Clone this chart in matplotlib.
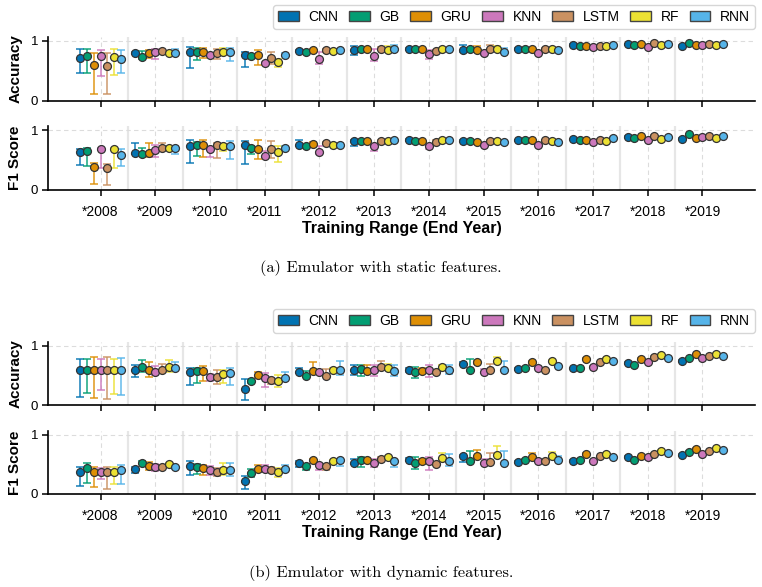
import matplotlib
matplotlib.use("Agg")
import matplotlib.pyplot as plt
from matplotlib.patches import Patch
import numpy as np

models = ["CNN", "GB", "GRU", "KNN", "LSTM", "RF", "RNN"]
years = ["*2008", "*2009", "*2010", "*2011", "*2012", "*2013",
         "*2014", "*2015", "*2016", "*2017", "*2018", "*2019"]
colors = ["#0173b2", "#029e73", "#de8f05", "#cc78bc", "#ca9161", "#ece133", "#56b4e9"]

# ---------------- (a) static features ----------------
acc_a = {
    "CNN":  [0.72, 0.80, 0.81, 0.76, 0.83, 0.84, 0.86, 0.84, 0.87, 0.93, 0.94, 0.92],
    "GB":   [0.75, 0.73, 0.81, 0.74, 0.82, 0.86, 0.86, 0.86, 0.87, 0.92, 0.93, 0.96],
    "GRU":  [0.59, 0.79, 0.81, 0.76, 0.84, 0.87, 0.86, 0.84, 0.87, 0.91, 0.95, 0.93],
    "KNN":  [0.75, 0.82, 0.77, 0.63, 0.69, 0.74, 0.78, 0.79, 0.80, 0.89, 0.90, 0.93],
    "LSTM": [0.58, 0.83, 0.79, 0.72, 0.84, 0.87, 0.83, 0.86, 0.87, 0.92, 0.96, 0.95],
    "RF":   [0.73, 0.79, 0.82, 0.64, 0.83, 0.84, 0.86, 0.86, 0.86, 0.91, 0.93, 0.93],
    "RNN":  [0.69, 0.79, 0.81, 0.77, 0.84, 0.87, 0.86, 0.82, 0.85, 0.93, 0.94, 0.95],
}
acc_a_lo = {
    "CNN":  [0.25, 0.02, 0.26, 0.19, 0.02, 0.07, 0.02, 0.02, 0.01, 0.01, 0.01, 0.01],
    "GB":   [0.28, 0.04, 0.13, 0.03, 0.02, 0.02, 0.02, 0.02, 0.01, 0.01, 0.01, 0.01],
    "GRU":  [0.47, 0.08, 0.10, 0.16, 0.02, 0.02, 0.02, 0.02, 0.01, 0.01, 0.01, 0.01],
    "KNN":  [0.33, 0.13, 0.03, 0.02, 0.07, 0.07, 0.09, 0.02, 0.01, 0.01, 0.01, 0.01],
    "LSTM": [0.475, 0.02, 0.10, 0.11, 0.02, 0.02, 0.02, 0.02, 0.01, 0.01, 0.01, 0.01],
    "RF":   [0.30, 0.02, 0.03, 0.07, 0.02, 0.02, 0.02, 0.02, 0.01, 0.01, 0.01, 0.01],
    "RNN":  [0.22, 0.02, 0.14, 0.02, 0.02, 0.02, 0.02, 0.02, 0.01, 0.01, 0.01, 0.01],
}
acc_a_hi = {
    "CNN":  [0.14, 0.02, 0.08, 0.06, 0.02, 0.08, 0.02, 0.09, 0.01, 0.01, 0.01, 0.01],
    "GB":   [0.12, 0.10, 0.07, 0.04, 0.03, 0.02, 0.02, 0.02, 0.01, 0.01, 0.01, 0.01],
    "GRU":  [0.21, 0.05, 0.07, 0.09, 0.02, 0.02, 0.02, 0.07, 0.01, 0.01, 0.01, 0.01],
    "KNN":  [0.09, 0.045, 0.03, 0.02, 0.13, 0.13, 0.06, 0.02, 0.01, 0.01, 0.01, 0.01],
    "LSTM": [0.22, 0.02, 0.07, 0.09, 0.02, 0.02, 0.02, 0.07, 0.01, 0.01, 0.01, 0.01],
    "RF":   [0.14, 0.02, 0.06, 0.05, 0.02, 0.07, 0.02, 0.06, 0.01, 0.01, 0.01, 0.01],
    "RNN":  [0.15, 0.07, 0.07, 0.02, 0.02, 0.06, 0.02, 0.06, 0.01, 0.01, 0.01, 0.01],
}
f1_a = {
    "CNN":  [0.63, 0.62, 0.73, 0.75, 0.75, 0.82, 0.84, 0.82, 0.83, 0.85, 0.89, 0.86],
    "GB":   [0.66, 0.60, 0.75, 0.71, 0.73, 0.82, 0.82, 0.82, 0.83, 0.84, 0.87, 0.93],
    "GRU":  [0.38, 0.62, 0.75, 0.69, 0.77, 0.82, 0.82, 0.81, 0.83, 0.84, 0.90, 0.87],
    "KNN":  [0.68, 0.67, 0.69, 0.57, 0.63, 0.74, 0.74, 0.75, 0.76, 0.80, 0.84, 0.89],
    "LSTM": [0.37, 0.70, 0.75, 0.69, 0.79, 0.82, 0.81, 0.82, 0.83, 0.84, 0.91, 0.90],
    "RF":   [0.68, 0.70, 0.74, 0.63, 0.75, 0.82, 0.83, 0.82, 0.82, 0.82, 0.86, 0.87],
    "RNN":  [0.59, 0.71, 0.73, 0.71, 0.76, 0.84, 0.83, 0.80, 0.81, 0.87, 0.88, 0.91],
}
f1_a_lo = {
    "CNN":  [0.22, 0.02, 0.28, 0.31, 0.02, 0.08, 0.02, 0.02, 0.01, 0.01, 0.01, 0.01],
    "GB":   [0.26, 0.02, 0.18, 0.11, 0.02, 0.02, 0.02, 0.02, 0.01, 0.01, 0.01, 0.01],
    "GRU":  [0.28, 0.06, 0.20, 0.18, 0.02, 0.02, 0.02, 0.02, 0.01, 0.01, 0.01, 0.01],
    "KNN":  [0.31, 0.12, 0.13, 0.02, 0.02, 0.09, 0.06, 0.02, 0.01, 0.01, 0.01, 0.01],
    "LSTM": [0.28, 0.03, 0.22, 0.16, 0.02, 0.02, 0.02, 0.02, 0.01, 0.01, 0.01, 0.01],
    "RF":   [0.32, 0.03, 0.08, 0.17, 0.02, 0.02, 0.02, 0.02, 0.01, 0.01, 0.01, 0.01],
    "RNN":  [0.19, 0.10, 0.21, 0.02, 0.02, 0.02, 0.02, 0.02, 0.01, 0.01, 0.01, 0.01],
}
f1_a_hi = {
    "CNN":  [0.06, 0.17, 0.10, 0.07, 0.08, 0.02, 0.02, 0.02, 0.01, 0.01, 0.01, 0.01],
    "GB":   [0.04, 0.10, 0.05, 0.02, 0.02, 0.02, 0.02, 0.02, 0.01, 0.01, 0.01, 0.01],
    "GRU":  [0.07, 0.16, 0.09, 0.15, 0.04, 0.02, 0.02, 0.02, 0.01, 0.01, 0.01, 0.01],
    "KNN":  [0.02, 0.08, 0.03, 0.08, 0.11, 0.02, 0.02, 0.02, 0.01, 0.01, 0.01, 0.01],
    "LSTM": [0.07, 0.08, 0.03, 0.13, 0.02, 0.02, 0.02, 0.02, 0.01, 0.01, 0.01, 0.01],
    "RF":   [0.02, 0.03, 0.03, 0.11, 0.02, 0.02, 0.02, 0.02, 0.01, 0.01, 0.01, 0.01],
    "RNN":  [0.10, 0.02, 0.09, 0.02, 0.02, 0.02, 0.02, 0.02, 0.01, 0.01, 0.01, 0.01],
}

# ---------------- (b) dynamic features ----------------
acc_b = {
    "CNN":  [0.59, 0.59, 0.56, 0.27, 0.56, 0.59, 0.59, 0.70, 0.61, 0.62, 0.71, 0.75],
    "GB":   [0.60, 0.64, 0.57, 0.40, 0.49, 0.61, 0.55, 0.60, 0.62, 0.62, 0.67, 0.79],
    "GRU":  [0.59, 0.59, 0.57, 0.50, 0.58, 0.58, 0.58, 0.72, 0.72, 0.78, 0.78, 0.86],
    "KNN":  [0.59, 0.56, 0.48, 0.46, 0.56, 0.59, 0.59, 0.56, 0.63, 0.65, 0.72, 0.79],
    "LSTM": [0.59, 0.60, 0.48, 0.43, 0.49, 0.65, 0.55, 0.60, 0.60, 0.72, 0.81, 0.82],
    "RF":   [0.59, 0.64, 0.52, 0.41, 0.60, 0.63, 0.65, 0.74, 0.75, 0.78, 0.85, 0.87],
    "RNN":  [0.59, 0.63, 0.54, 0.46, 0.59, 0.57, 0.60, 0.59, 0.66, 0.74, 0.80, 0.83],
}
acc_b_lo = {
    "CNN":  [0.45, 0.12, 0.22, 0.19, 0.02, 0.08, 0.03, 0.02, 0.01, 0.01, 0.01, 0.01],
    "GB":   [0.39, 0.09, 0.20, 0.02, 0.02, 0.12, 0.09, 0.02, 0.01, 0.01, 0.01, 0.01],
    "GRU":  [0.48, 0.11, 0.17, 0.02, 0.02, 0.02, 0.02, 0.02, 0.02, 0.01, 0.01, 0.01],
    "KNN":  [0.33, 0.05, 0.08, 0.15, 0.02, 0.10, 0.12, 0.02, 0.01, 0.01, 0.01, 0.01],
    "LSTM": [0.49, 0.03, 0.13, 0.08, 0.02, 0.02, 0.02, 0.02, 0.01, 0.01, 0.01, 0.01],
    "RF":   [0.40, 0.08, 0.14, 0.10, 0.02, 0.02, 0.02, 0.02, 0.01, 0.01, 0.01, 0.01],
    "RNN":  [0.42, 0.03, 0.21, 0.02, 0.09, 0.08, 0.07, 0.02, 0.01, 0.01, 0.01, 0.01],
}
acc_b_hi = {
    "CNN":  [0.19, 0.09, 0.07, 0.17, 0.07, 0.09, 0.03, 0.02, 0.01, 0.01, 0.01, 0.01],
    "GB":   [0.18, 0.12, 0.06, 0.02, 0.08, 0.06, 0.10, 0.18, 0.01, 0.01, 0.01, 0.01],
    "GRU":  [0.22, 0.13, 0.09, 0.05, 0.14, 0.10, 0.04, 0.02, 0.02, 0.01, 0.01, 0.01],
    "KNN":  [0.18, 0.10, 0.04, 0.08, 0.02, 0.08, 0.09, 0.05, 0.01, 0.01, 0.01, 0.01],
    "LSTM": [0.22, 0.10, 0.12, 0.02, 0.12, 0.09, 0.02, 0.10, 0.01, 0.01, 0.01, 0.01],
    "RF":   [0.18, 0.12, 0.08, 0.10, 0.02, 0.07, 0.02, 0.07, 0.01, 0.01, 0.01, 0.01],
    "RNN":  [0.21, 0.10, 0.08, 0.09, 0.16, 0.10, 0.07, 0.15, 0.01, 0.01, 0.01, 0.01],
}
f1_b = {
    "CNN":  [0.38, 0.43, 0.47, 0.22, 0.53, 0.53, 0.58, 0.64, 0.54, 0.56, 0.63, 0.66],
    "GB":   [0.44, 0.52, 0.46, 0.36, 0.48, 0.57, 0.53, 0.56, 0.58, 0.58, 0.58, 0.71],
    "GRU":  [0.37, 0.48, 0.44, 0.43, 0.57, 0.57, 0.55, 0.64, 0.62, 0.68, 0.64, 0.76],
    "KNN":  [0.38, 0.46, 0.40, 0.42, 0.49, 0.53, 0.56, 0.52, 0.56, 0.56, 0.62, 0.68],
    "LSTM": [0.37, 0.46, 0.38, 0.41, 0.48, 0.60, 0.51, 0.54, 0.55, 0.64, 0.68, 0.72],
    "RF":   [0.38, 0.50, 0.41, 0.38, 0.56, 0.62, 0.61, 0.66, 0.65, 0.68, 0.73, 0.77],
    "RNN":  [0.41, 0.45, 0.41, 0.42, 0.57, 0.56, 0.56, 0.52, 0.57, 0.63, 0.69, 0.74],
}
f1_b_lo = {
    "CNN":  [0.24, 0.07, 0.15, 0.14, 0.08, 0.03, 0.03, 0.10, 0.01, 0.01, 0.01, 0.01],
    "GB":   [0.25, 0.02, 0.13, 0.07, 0.08, 0.11, 0.10, 0.02, 0.01, 0.01, 0.01, 0.01],
    "GRU":  [0.26, 0.08, 0.12, 0.02, 0.02, 0.03, 0.05, 0.02, 0.02, 0.01, 0.01, 0.01],
    "KNN":  [0.13, 0.07, 0.08, 0.05, 0.09, 0.08, 0.16, 0.02, 0.01, 0.01, 0.01, 0.01],
    "LSTM": [0.28, 0.03, 0.08, 0.04, 0.08, 0.02, 0.02, 0.02, 0.01, 0.01, 0.01, 0.01],
    "RF":   [0.21, 0.03, 0.09, 0.10, 0.02, 0.02, 0.02, 0.02, 0.01, 0.01, 0.01, 0.01],
    "RNN":  [0.24, 0.03, 0.10, 0.02, 0.10, 0.10, 0.09, 0.02, 0.01, 0.01, 0.01, 0.01],
}
f1_b_hi = {
    "CNN":  [0.07, 0.03, 0.09, 0.09, 0.02, 0.07, 0.03, 0.02, 0.01, 0.01, 0.01, 0.01],
    "GB":   [0.08, 0.03, 0.05, 0.06, 0.02, 0.05, 0.10, 0.17, 0.01, 0.01, 0.01, 0.01],
    "GRU":  [0.08, 0.06, 0.05, 0.06, 0.02, 0.04, 0.04, 0.11, 0.07, 0.01, 0.01, 0.01],
    "KNN":  [0.06, 0.05, 0.07, 0.07, 0.02, 0.07, 0.07, 0.07, 0.01, 0.01, 0.01, 0.01],
    "LSTM": [0.08, 0.03, 0.06, 0.04, 0.02, 0.02, 0.02, 0.16, 0.01, 0.01, 0.01, 0.01],
    "RF":   [0.08, 0.03, 0.12, 0.06, 0.02, 0.02, 0.08, 0.15, 0.06, 0.01, 0.01, 0.01],
    "RNN":  [0.08, 0.03, 0.11, 0.07, 0.02, 0.02, 0.11, 0.21, 0.07, 0.01, 0.01, 0.01],
}

SANS = ["Liberation Sans", "DejaVu Sans"]
plt.rcParams["font.family"] = SANS

W, H = 762, 587
fig = plt.figure(figsize=(W / 100, H / 100), dpi=100)


def rect(top, bottom, left=48, right=755):
    return [left / W, 1 - bottom / H, (right - left) / W, (bottom - top) / H]


def draw(ax, means, lo, hi, ylabel, show_xlabels):
    x = np.arange(len(years))
    step = 0.123
    for sep in np.arange(len(years) - 1) + 0.5:
        ax.axvline(sep, color="#e6e6e6", lw=1.6, zorder=0)
    for xi in x:
        ax.axvline(xi, color="#dcdcdc", lw=0.8, ls=(0, (4, 3)), zorder=0)
    ax.axhline(1.0, color="#dcdcdc", lw=0.8, ls=(0, (4, 3)), zorder=0)
    for i, m in enumerate(models):
        xs = x + (i - 3) * step
        y = np.array(means[m])
        yerr = np.vstack([lo[m], hi[m]])
        ax.errorbar(xs, y, yerr=yerr, fmt="none", ecolor=colors[i], alpha=0.72,
                    elinewidth=1.4, capsize=2.6, capthick=1.4, zorder=2)
        ax.plot(xs, y, "o", ms=5.7, mfc=colors[i], mec="#333333", mew=0.9,
                zorder=3, ls="none")
    ax.set_xlim(-0.96, 11.96)
    ax.set_ylim(0, 1.07)
    ax.set_yticks([0, 1])
    ax.set_yticklabels(["0", "1"])
    ax.set_xticks(x)
    for s in ["top", "right"]:
        ax.spines[s].set_visible(False)
    for s in ["left", "bottom"]:
        ax.spines[s].set_linewidth(1.2)
    ax.tick_params(axis="y", direction="out", length=4, width=1.1, labelsize=9.5, pad=3)
    ax.tick_params(axis="x", direction="out", length=4, width=1.1, labelsize=10, pad=7)
    if show_xlabels:
        ax.set_xticklabels(years)
    else:
        ax.set_xticklabels([])
    ax.set_ylabel(ylabel, fontsize=11, fontweight="bold", labelpad=6)
    ax.patch.set_alpha(0)


handles = [Patch(facecolor=c, edgecolor="#444444", linewidth=1.0, label=m)
           for m, c in zip(models, colors)]

panels = [
    (acc_a, acc_a_lo, acc_a_hi, f1_a, f1_a_lo, f1_a_hi,
     (36.7, 100.7), (126, 190), 5, 228, 268, "(a) Emulator with static features."),
    (acc_b, acc_b_lo, acc_b_hi, f1_b, f1_b_lo, f1_b_hi,
     (341.7, 405), (430.7, 494), 309, 533, 573, "(b) Emulator with dynamic features."),
]

for (acc, alo, ahi, f1, flo, fhi, r1, r2, legtop, xlab_y, cap_y, caption) in panels:
    ax1 = fig.add_axes(rect(*r1))
    draw(ax1, acc, alo, ahi, "Accuracy", False)
    ax2 = fig.add_axes(rect(*r2))
    draw(ax2, f1, flo, fhi, "F1 Score", True)
    fig.text(401.5 / W, 1 - xlab_y / H, "Training Range (End Year)", ha="center",
             va="center", fontsize=11.5, fontweight="bold")
    fig.text(381 / W, 1 - cap_y / H, caption, ha="center", va="center",
             fontsize=11.8, family=["cmr10", "DejaVu Serif"])
    leg = fig.legend(handles=handles, loc="upper right", ncol=7,
                     bbox_to_anchor=(755 / W, 1 - legtop / H), borderaxespad=0,
                     fontsize=10, handlelength=1.5, handleheight=0.8,
                     handletextpad=0.7, columnspacing=0.75, frameon=True,
                     fancybox=True, borderpad=0.35)
    leg.get_frame().set_edgecolor("#cccccc")
    leg.get_frame().set_linewidth(1.0)

fig.savefig("out.png", dpi=100)
